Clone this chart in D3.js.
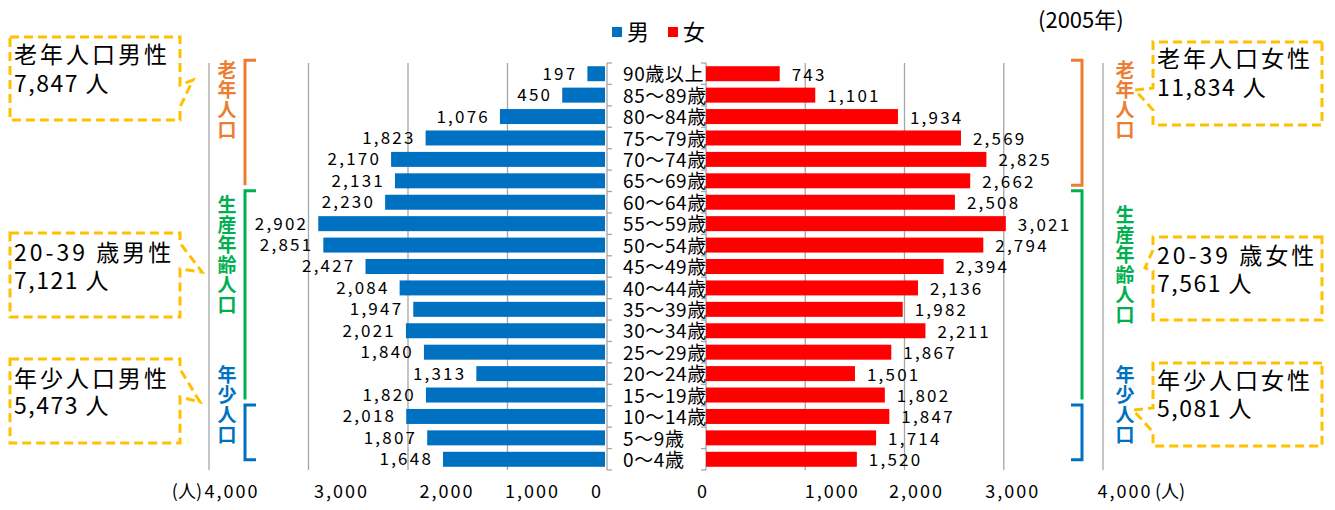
<!DOCTYPE html>
<html>
<head>
<meta charset="utf-8">
<script src="https://cdn.jsdelivr.net/npm/d3@7"></script>
<style>
  body { margin: 0; background: #fff; }
  svg text { font-family: "Noto Sans CJK JP", "Noto Sans", sans-serif; }
</style>
</head>
<body>
<div id="chart"></div>
<script>
// age groups, top (oldest) to bottom
var ages = ["90歳以上", "85〜89歳", "80〜84歳", "75〜79歳", "70〜74歳", "65〜69歳",
            "60〜64歳", "55〜59歳", "50〜54歳", "45〜49歳", "40〜44歳", "35〜39歳",
            "30〜34歳", "25〜29歳", "20〜24歳", "15〜19歳", "10〜14歳", "5〜9歳", "0〜4歳"];
var male   = [197, 450, 1076, 1823, 2170, 2131, 2230, 2902, 2851, 2427, 2084, 1947,
              2021, 1840, 1313, 1820, 2018, 1807, 1648];
var female = [743, 1101, 1934, 2569, 2825, 2662, 2508, 3021, 2794, 2394, 2136, 1982,
              2211, 1867, 1501, 1802, 1847, 1714, 1520];
var ticks = [0, 1000, 2000, 3000, 4000];

// population groups (brackets)
var groups = [
  {name: "老年人口",     from: "90歳以上", to: "65〜69歳", color: "#ED7D31"},
  {name: "生産年齢人口", from: "60〜64歳", to: "15〜19歳", color: "#00B050"},
  {name: "年少人口",     from: "10〜14歳", to: "0〜4歳",   color: "#0070C0"}
];

// callouts
var notesLeft  = [["老年人口男性", "7,847 人"], ["20-39 歳男性", "7,121 人"], ["年少人口男性", "5,473 人"]];
var notesRight = [["老年人口女性", "11,834 人"], ["20-39 歳女性", "7,561 人"], ["年少人口女性", "5,081 人"]];

var W = 1335, H = 510;
var blue = "#0070C0", red = "#FF0000", grid = "#A6A6A6", gold = "#FFC000";

var svg = d3.select("#chart").append("svg")
    .attr("width", W).attr("height", H);

var y = d3.scaleBand().domain(ages).range([63, 470])
    .paddingInner(0.3).paddingOuter(0.15);
var xL = d3.scaleLinear().domain([0, 4000]).range([607, 209]);
var xR = d3.scaleLinear().domain([0, 4000]).range([706, 1103]);

var fmt = d3.format(",");

// gridlines
[xL, xR].forEach(function(x) {
  svg.append("g").selectAll("line")
    .data(ticks.slice(1))
    .enter().append("line")
    .attr("x1", d => x(d)).attr("x2", d => x(d))
    .attr("y1", 63).attr("y2", 470)
    .attr("stroke", grid).attr("stroke-width", 1.3);
});

// axes at zero with small category ticks
var edges = ages.map(a => y(a) - y.step() * 0.15).concat([470]);
[[xL, 1], [xR, -1]].forEach(function(p) {
  var x0 = p[0](0);
  svg.append("line").attr("x1", x0).attr("x2", x0).attr("y1", 63).attr("y2", 470)
    .attr("stroke", grid).attr("stroke-width", 1.3);
  svg.append("g").selectAll("line").data(edges).enter().append("line")
    .attr("x1", x0).attr("x2", x0 + 5 * p[1])
    .attr("y1", d => d).attr("y2", d => d)
    .attr("stroke", grid).attr("stroke-width", 1.3);
});

// bars
svg.append("g").selectAll("rect").data(male).enter().append("rect")
  .attr("x", d => xL(d)).attr("y", (d, i) => y(ages[i]))
  .attr("width", d => xL(0) - xL(d) - 2).attr("height", y.bandwidth())
  .attr("fill", blue);
svg.append("g").selectAll("rect").data(female).enter().append("rect")
  .attr("x", xR(0)).attr("y", (d, i) => y(ages[i]))
  .attr("width", d => xR(d) - xR(0)).attr("height", y.bandwidth())
  .attr("fill", red);

// value labels
svg.append("g").selectAll("text").data(male).enter().append("text")
  .attr("x", d => xL(d) - 10).attr("y", (d, i) => y(ages[i]) + y.bandwidth() / 2)
  .attr("dy", "0.35em").attr("text-anchor", "end")
  .attr("font-size", 17).attr("letter-spacing", 2.2)
  .text(d => fmt(d));
svg.append("g").selectAll("text").data(female).enter().append("text")
  .attr("x", d => xR(d) + 12).attr("y", (d, i) => y(ages[i]) + y.bandwidth() / 2 + 1)
  .attr("dy", "0.35em").attr("text-anchor", "start")
  .attr("font-size", 17).attr("letter-spacing", 2.2)
  .text(d => fmt(d));

// category labels
svg.append("g").selectAll("text").data(ages).enter().append("text")
  .attr("x", 623).attr("y", d => y(d) + y.bandwidth() / 2 + 1)
  .attr("dy", "0.35em").attr("font-size", 19).attr("letter-spacing", 0.6)
  .text(d => d);

// bottom tick labels (Excel draws them a little off the ticks)
var nudgeL = [-10, 25, 39, 33, 23];
var nudgeR = [-3, 27, 12, 9, 22];
svg.append("g").selectAll("text").data(ticks).enter().append("text")
  .attr("x", (d, i) => xL(d) + nudgeL[i]).attr("y", 492)
  .attr("dy", "0.35em").attr("text-anchor", "middle").attr("font-size", 18)
  .attr("letter-spacing", 2)
  .text(d => fmt(d));
svg.append("g").selectAll("text").data(ticks).enter().append("text")
  .attr("x", (d, i) => xR(d) + nudgeR[i]).attr("y", 492)
  .attr("dy", "0.35em").attr("text-anchor", "middle").attr("font-size", 18)
  .attr("letter-spacing", 2)
  .text(d => fmt(d));
svg.append("text").attr("x", xL(4000) - 7).attr("y", 492).attr("dy", "0.35em")
  .attr("text-anchor", "end").attr("font-size", 18).text("(人)");
svg.append("text").attr("x", xR(4000) + 52).attr("y", 492).attr("dy", "0.35em")
  .attr("font-size", 18).text("(人)");

// legend
var leg = svg.append("g");
[["男", blue, 612], ["女", red, 668]].forEach(function(l) {
  leg.append("rect").attr("x", l[2]).attr("y", 27).attr("width", 10).attr("height", 10).attr("fill", l[1]);
  leg.append("text").attr("x", l[2] + 15).attr("y", 32).attr("dy", "0.35em")
    .attr("font-size", 22).text(l[0]);
});
svg.append("text").attr("x", 1038).attr("y", 20).attr("dy", "0.35em")
  .attr("font-size", 22).text("(2005年)");

// brackets and vertical group names
var gpos = groups.map(function(g, i) {
  return {g: g,
          top: y(g.from) - (i === 0 ? 6 : 4),
          bot: y(g.to) + y.bandwidth() - (i === 2 ? 7 : 3)};
});
function bracket(x, dir, top, bot, hookTop, hookBot) {
  var p = "";
  if (hookTop) p += "M" + (x + 11 * dir) + "," + top + "H" + x; else p += "M" + x + "," + top;
  p += "V" + bot;
  if (hookBot) p += "H" + (x + 11 * dir);
  return p;
}
gpos.forEach(function(d, i) {
  svg.append("path").attr("d", bracket(245, 1, d.top, d.bot, true, i === 2))
    .attr("fill", "none").attr("stroke", d.g.color).attr("stroke-width", 3);
  svg.append("path").attr("d", bracket(1082, -1, d.top, d.bot, true, i !== 1))
    .attr("fill", "none").attr("stroke", d.g.color).attr("stroke-width", 3);
});
var nameTop = [[60, 60], [195, 205], [365, 365]];
gpos.forEach(function(d, i) {
  [[227, nameTop[i][0]], [1125, nameTop[i][1]]].forEach(function(p) {
    svg.append("text")
      .attr("x", p[0]).attr("y", p[1])
      .attr("writing-mode", "vertical-rl")
      .style("text-orientation", "upright")
      .attr("font-size", 19).attr("letter-spacing", 1)
      .attr("font-weight", "bold").attr("fill", d.g.color)
      .text(d.g.name);
  });
});

// callout boxes
var boxesL = [
  {y0: 37, y1: 120, p1: 85, p2: 107, tx: 193, ty: 80, b1: 63, b2: 92},
  {y0: 233, y1: 317, p1: 243, p2: 269, tx: 202, ty: 272, b1: 261, b2: 289},
  {y0: 359, y1: 443, p1: 369, p2: 397, tx: 200, ty: 402, b1: 387, b2: 414}
];
var boxesR = [
  {y0: 42, y1: 125, p1: 88, p2: 110, tx: 1135, ty: 90, b1: 67, b2: 96},
  {y0: 237, y1: 320, p1: 250, p2: 271, tx: 1145, ty: 268, b1: 264, b2: 292},
  {y0: 363, y1: 446, p1: 408, p2: 432, tx: 1133, ty: 410, b1: 389, b2: 417}
];
function callout(b, x0, x1, side) {
  // side: 1 pointer on right edge, -1 pointer on left edge
  if (side === 1) {
    return "M" + x0 + "," + b.y0 + "H" + x1 + "V" + b.p1 + "L" + b.tx + "," + b.ty +
      "L" + x1 + "," + b.p2 + "V" + b.y1 + "H" + x0 + "Z";
  }
  return "M" + x1 + "," + b.y0 + "H" + x0 + "V" + b.p1 + "L" + b.tx + "," + b.ty +
    "L" + x0 + "," + b.p2 + "V" + b.y1 + "H" + x1 + "Z";
}
boxesL.forEach(function(b, i) {
  svg.append("path").attr("d", callout(b, 10, 180, 1))
    .attr("fill", "#fff").attr("stroke", gold).attr("stroke-width", 3)
    .attr("stroke-dasharray", "9,5");
  svg.append("text").attr("x", 14).attr("y", b.b1).attr("font-size", 23)
    .attr("letter-spacing", 3).text(notesLeft[i][0]);
  svg.append("text").attr("x", 14).attr("y", b.b2).attr("font-size", 23)
    .attr("letter-spacing", 1.5).text(notesLeft[i][1]);
});
boxesR.forEach(function(b, i) {
  svg.append("path").attr("d", callout(b, 1153, 1322, -1))
    .attr("fill", "#fff").attr("stroke", gold).attr("stroke-width", 3)
    .attr("stroke-dasharray", "9,5");
  svg.append("text").attr("x", 1157).attr("y", b.b1).attr("font-size", 23)
    .attr("letter-spacing", 3).text(notesRight[i][0]);
  svg.append("text").attr("x", 1157).attr("y", b.b2).attr("font-size", 23)
    .attr("letter-spacing", 1.5).text(notesRight[i][1]);
});
</script>
</body>
</html>
